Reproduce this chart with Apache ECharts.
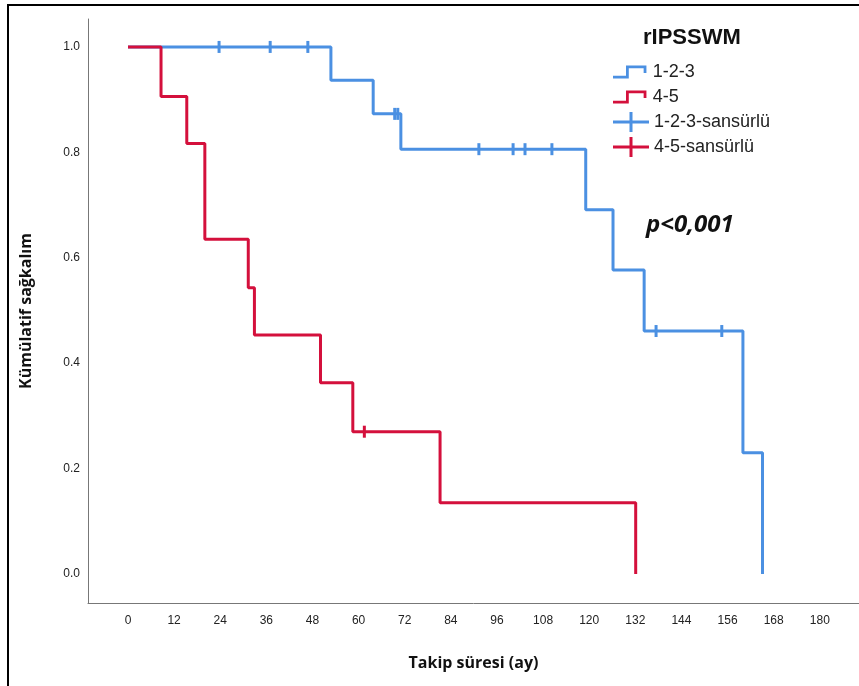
<!DOCTYPE html>
<html>
<head>
<meta charset="utf-8">
<script src="https://cdn.jsdelivr.net/npm/echarts@6/dist/echarts.min.js"></script>
<style>html,body{margin:0;padding:0;background:#fff;}#c{width:859px;height:686px;}</style>
</head>
<body>
<div id="c"></div>
<script>
// Kaplan-Meier step data: [month, survival]
const blueTimes = [0, 52.8, 63.8, 71.0, 119.1, 126.2, 134.3, 160.0, 165.1];
const blueSurv  = [1.0, 0.937, 0.873, 0.806, 0.691, 0.577, 0.461, 0.230, 0.0];
const redTimes  = [0, 8.6, 15.3, 20.0, 31.3, 32.9, 50.1, 58.5, 81.2, 132.1];
const redSurv   = [1.0, 0.906, 0.817, 0.635, 0.543, 0.4535, 0.363, 0.270, 0.135, 0.0];
// censored observations
const blueCensT = [23.7, 37.0, 46.8, 69.4, 70.2, 91.3, 100.2, 103.3, 110.3, 137.4, 154.5];
const blueCensS = [1.0, 1.0, 1.0, 0.873, 0.873, 0.806, 0.806, 0.806, 0.806, 0.461, 0.461];
const redCensT  = [61.5];
const redCensS  = [0.270];
// tick labels
const xTicks = [0, 12, 24, 36, 48, 60, 72, 84, 96, 108, 120, 132, 144, 156, 168, 180];
const yTicks = [0, 0.2, 0.4, 0.6, 0.8, 1.0];
const seriesNames = ['1-2-3', '4-5', '1-2-3-sansürlü', '4-5-sansürlü'];

const BLUE = '#4b90e2', RED = '#d4103c';
const zip = (a, b) => a.map((v, i) => [v, b[i]]);

const stepIcon = 'path://M0,11 L14,11 L14,0 L36,0 L36,8 L33,8 L33,3 L17,3 L17,14 L0,14 Z';
const crossIcon = 'path://M0,8.5 L16.5,8.5 L16.5,0 L19.5,0 L19.5,8.5 L36,8.5 L36,11.5 L19.5,11.5 L19.5,20 L16.5,20 L16.5,11.5 L0,11.5 Z';

const chart = echarts.init(document.getElementById('c'), null, {renderer: 'canvas'});
chart.setOption({
  animation: false,
  backgroundColor: '#fff',
  title: [
    {text: 'rIPSSWM', left: 638, top: 22,
     textStyle: {fontFamily: 'Liberation Sans, Arial', fontWeight: 'bold', fontSize: 22, color: '#111'}},
    {text: 'p<0,001', left: 641, top: 208,
     textStyle: {fontFamily: 'Open Sans', fontWeight: 'bold', fontStyle: 'italic', fontSize: 24, color: '#111'}}
  ],
  legend: [
    {data: [seriesNames[0], seriesNames[1]], orient: 'vertical', left: 608, top: 57,
     itemWidth: 36, itemHeight: 13, itemGap: 5, icon: stepIcon,
     textStyle: {fontFamily: 'Liberation Sans, Arial', fontSize: 18, color: '#222', lineHeight: 20}},
    {data: [seriesNames[2], seriesNames[3]], orient: 'vertical', left: 608, top: 107,
     itemWidth: 36, itemHeight: 22, itemGap: 5, icon: crossIcon,
     itemStyle: {opacity: 1},
     textStyle: {fontFamily: 'Liberation Sans, Arial', fontSize: 18, color: '#222', lineHeight: 20}}
  ],
  grid: {left: 88, right: 0, top: 19, bottom: 83, containLabel: false},
  xAxis: {
    type: 'value', min: -10.4, max: 190.2,
    name: 'Takip süresi (ay)', nameLocation: 'middle', nameGap: 52,
    nameTextStyle: {fontFamily: 'Open Sans', fontWeight: 'bold', fontSize: 16, color: '#111'},
    axisLine: {show: true, onZero: false, lineStyle: {color: '#777', width: 1}},
    axisTick: {show: false},
    splitLine: {show: false},
    axisLabel: {customValues: xTicks, margin: 12, fontFamily: 'Liberation Sans, Arial', fontSize: 12, color: '#222'}
  },
  yAxis: {
    type: 'value', min: -0.055, max: 1.053,
    name: 'Kümülatif sağkalım', nameLocation: 'middle', nameGap: 54, nameRotate: 90,
    nameTextStyle: {fontFamily: 'Open Sans', fontWeight: 'bold', fontSize: 16, color: '#111'},
    axisLine: {show: true, onZero: false, lineStyle: {color: '#777', width: 1}},
    axisTick: {show: false},
    splitLine: {show: false},
    axisLabel: {customValues: yTicks, margin: 8, fontFamily: 'Liberation Sans, Arial', fontSize: 12, color: '#222',
      formatter: v => v.toFixed(1)}
  },
  series: [
    {name: seriesNames[0], type: 'line', step: 'end', data: zip(blueTimes, blueSurv),
     showSymbol: false, symbol: 'none', lineStyle: {color: BLUE, width: 3}, itemStyle: {color: BLUE}, z: 2},
    {name: seriesNames[1], type: 'line', step: 'end', data: zip(redTimes, redSurv),
     showSymbol: false, symbol: 'none', lineStyle: {color: RED, width: 3}, itemStyle: {color: RED}, z: 3},
    {name: seriesNames[2], type: 'scatter', data: zip(blueCensT, blueCensS),
     symbol: 'rect', symbolSize: [3, 12], itemStyle: {color: BLUE, opacity: 1}, z: 4},
    {name: seriesNames[3], type: 'scatter', data: zip(redCensT, redCensS),
     symbol: 'rect', symbolSize: [3, 12], itemStyle: {color: RED, opacity: 1}, z: 4}
  ],
  graphic: [
    {type: 'rect', shape: {x: 8, y: 5, width: 1000, height: 1000},
     style: {fill: 'none', stroke: '#000', lineWidth: 2}, silent: true, z: 100}
  ]
});
</script>
</body>
</html>
